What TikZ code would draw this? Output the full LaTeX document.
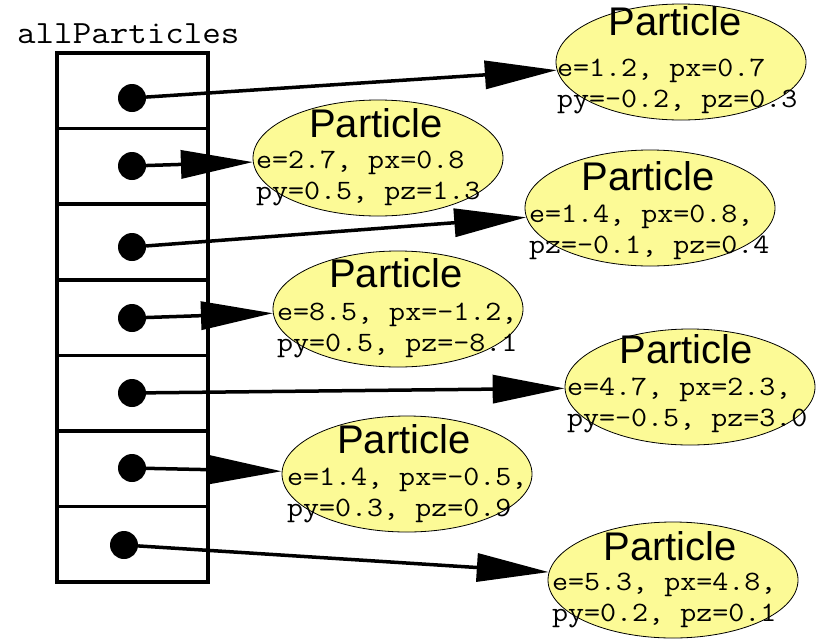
\documentclass[tikz,border=0pt]{standalone}
\usepackage{fontspec}
\setmainfont{Liberation Sans}
\setmonofont{Latin Modern Mono}[FakeStretch=1.11]
\usetikzlibrary{arrows.meta,shapes.geometric}
\definecolor{partfill}{RGB}{252,250,150}

\begin{document}
\begin{tikzpicture}[x=1pt,y=-1pt,
    arrname/.style={anchor=base west,inner sep=0pt,font=\ttfamily\fontsize{32.4}{32}\selectfont},
    cell/.style={draw,line width=3.5pt,minimum width=151pt,minimum height=75.6pt,inner sep=0pt},
    ref/.style={circle,fill,inner sep=0pt,minimum size=28pt},
    particle/.style={ellipse,draw,line width=0.8pt,fill=partfill,minimum width=250pt,minimum height=116pt,inner sep=0pt},
    ptitle/.style={anchor=base,inner sep=0pt,font=\fontsize{40}{40}\selectfont},
    pdata/.style={anchor=base west,inner sep=0pt,align=left,font=\ttfamily\fontsize{28}{31}\selectfont},
    ptr/.style={line width=3.5pt,-{Triangle[length=72pt,width=28pt]}}]
  \useasboundingbox (0,0) rectangle (818,640);
  \draw
    (17,43) node[arrname] (arr){allParticles}
    (132.5,90.8) node[cell] (c1){}
    (132.5,166.4) node[cell] (c2){}
    (132.5,242.0) node[cell] (c3){}
    (132.5,317.6) node[cell] (c4){}
    (132.5,393.2) node[cell] (c5){}
    (132.5,468.8) node[cell] (c6){}
    (132.5,544.4) node[cell] (c7){}
    (132,98) node[ref] (d1){}
    (132,166) node[ref] (d2){}
    (132,247) node[ref] (d3){}
    (132,318) node[ref] (d4){}
    (132,393) node[ref] (d5){}
    (132,468) node[ref] (d6){}
    (124,545) node[ref] (d7){};
  \draw
    (681,62) node[particle] (p1){}
    (378,158) node[particle] (p2){}
    (650,208) node[particle] (p3){}
    (398,309) node[particle] (p4){}
    (690,387) node[particle] (p5){}
    (407,474) node[particle] (p6){}
    (673,580) node[particle] (p7){};
  \draw
    (675,35) node[ptitle] (t1){Particle}
    (376,137) node[ptitle] (t2){Particle}
    (648,190) node[ptitle] (t3){Particle}
    (396,287) node[ptitle] (t4){Particle}
    (686,363) node[ptitle] (t5){Particle}
    (404,453) node[ptitle] (t6){Particle}
    (670,560) node[ptitle] (t7){Particle};
  \draw
    (557,107) node[pdata] (v1){e=1.2, px=0.7\\py=-0.2, pz=0.3}
    (256,199) node[pdata] (v2){e=2.7, px=0.8\\py=0.5, pz=1.3}
    (529,253) node[pdata] (v3){e=1.4, px=0.8,\\pz=-0.1, pz=0.4}
    (277,351) node[pdata] (v4){e=8.5, px=-1.2,\\py=0.5, pz=-8.1}
    (567,426) node[pdata] (v5){e=4.7, px=2.3,\\py=-0.5, pz=3.0}
    (287,516) node[pdata] (v6){e=1.4, px=-0.5,\\py=0.3, pz=0.9}
    (552,621) node[pdata] (v7){e=5.3, px=4.8,\\py=0.2, pz=0.1};
  \begin{scope}[ptr]
    \draw (d1) to (p1);
    \draw (d2) to (p2);
    \draw (d3) to (p3);
    \draw (d4) to (p4);
    \draw (d5) to (p5);
    \draw (d6) to (p6);
    \draw (d7) to (p7);
  \end{scope}
\end{tikzpicture}
\end{document}
